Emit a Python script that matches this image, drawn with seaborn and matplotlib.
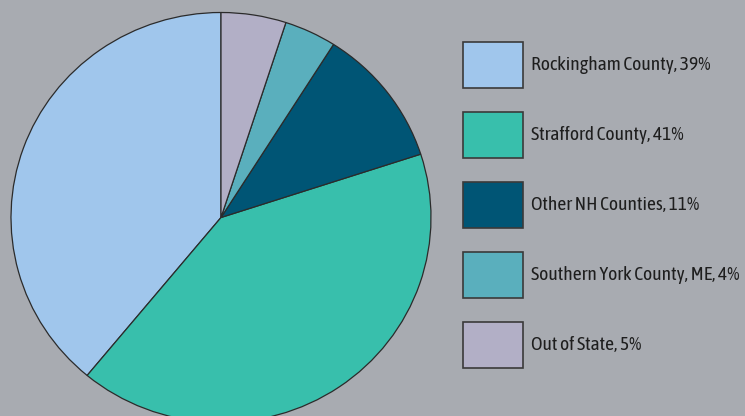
import matplotlib
matplotlib.use('Agg')
import matplotlib.pyplot as plt
import seaborn as sns

# data
regions = ["Rockingham County", "Strafford County", "Other NH Counties",
           "Southern York County, ME", "Out of State"]
shares = [39, 41, 11, 4, 5]
colors = ["#a0c6ec", "#38bfac", "#005575", "#5aafbd", "#b2afc6"]
labels = [f"{r}, {s}%" for r, s in zip(regions, shares)]

BG = "#a8abb1"
sns.set_style("white")
plt.rcParams['font.family'] = ['Asap Condensed', 'Liberation Sans', 'DejaVu Sans']

fig = plt.figure(figsize=(7.45, 4.16), dpi=100, facecolor=BG)

# pie axes: centre (221, 217.5) px, radii 210 x 205 px
W, H = 745, 416
cx, cy, rx, ry = 221, 217.5, 210, 205
ax = fig.add_axes([(cx - rx) / W, (H - cy - ry) / H, 2 * rx / W, 2 * ry / H])
ax.set_facecolor(BG)
palette = sns.color_palette(colors)
wedges, _ = ax.pie(shares, colors=palette, startangle=90, counterclock=True,
                   radius=1, wedgeprops=dict(edgecolor="#2b2b2b", linewidth=0.9))
for w in wedges:
    w.set_clip_on(False)
ax.set_aspect("auto")
ax.set_xlim(-1, 1)
ax.set_ylim(-1, 1)
ax.axis("off")

fs = 14
fpx = fs * 100 / 72
hh = (46 / fpx - 0.245) / 0.65
leg = fig.legend(wedges, labels, loc="upper left",
                 bbox_to_anchor=(463 / W, 1 - 41.7 / H),
                 frameon=False, fontsize=fs, borderpad=0, borderaxespad=0,
                 handlelength=60 / fpx, handleheight=hh,
                 labelspacing=24 / fpx, handletextpad=8 / fpx,
                 labelcolor="#1e1e1e")
for h in leg.legend_handles:
    h.set_edgecolor("#3a3a3a")
    h.set_linewidth(1.2)

fig.savefig("out.png", dpi=100, facecolor=BG)
